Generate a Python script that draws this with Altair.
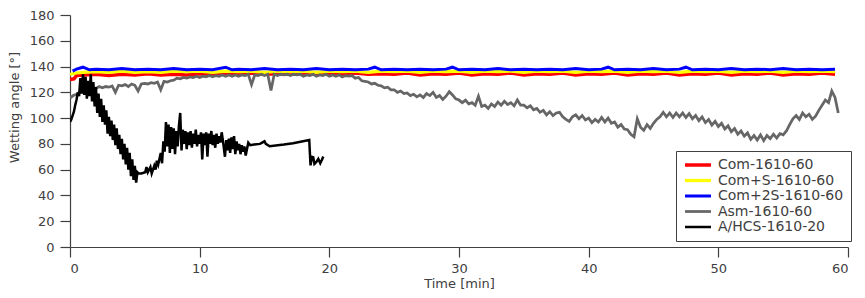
import altair as alt
import pandas as pd

series_names = ["Com-1610-60", "Com+S-1610-60", "Com+2S-1610-60", "Asm-1610-60", "A/HCS-1610-20"]
series_colors = ["#ff0000", "#ffff00", "#0000ff", "#666666", "#000000"]
series_widths = [3.5, 2.5, 1.2, 3, 1.8]

x_ticks = [0, 10, 20, 30, 40, 50, 60]
y_ticks = [0, 20, 40, 60, 80, 100, 120, 140, 160, 180]

# Com-1610-60 (red)
com_t = [0, 0.3, 0.5] + list(range(1, 60))
com_v = [130, 130.5, 133,
         133.5, 134, 133, 134, 133.5, 134.5, 133.5, 134, 133.5, 134.5,
         134, 134.5, 134, 135, 134, 134.5, 134, 135, 134, 134.5,
         134, 135, 134, 134.5, 134, 135, 133.5, 134.5, 134, 135,
         133.5, 134.5, 134, 135, 133.5, 134.5, 134, 135, 133.5, 134.5,
         134, 135, 133.5, 134.5, 134, 135, 133.5, 134.5, 134, 135,
         133.5, 134.5, 134, 135, 133.5, 134.5, 134, 135, 134]

# Com+S-1610-60 (yellow)
coms_t = [0, 0.5] + list(range(1, 60))
coms_v = [134, 135,
          135.5, 136, 135.5, 136.5, 135.5, 136, 135.5, 136.5, 136, 136.5,
          135.5, 136.5, 136, 136.5, 135.5, 136.5, 136, 136.5, 135.5, 136.5,
          136, 136.5, 135.5, 136.5, 136, 136.5, 135.5, 136.5, 136, 136.5,
          135.5, 136.5, 136, 136.5, 135.5, 136.5, 136, 136.5, 135.5, 136.5,
          136, 136.5, 135.5, 136.5, 136, 136.5, 135.5, 136.5, 136, 136.5,
          135.5, 136.5, 136, 136.5, 135.5, 136.5, 136, 136.5, 136]

# Com+2S-1610-60 (blue)
com2s_t = [0.2, 0.5, 1, 1.5, 2, 3, 4, 5, 6, 7, 8, 9, 10, 11, 12, 12.5, 13, 14, 15, 16,
           17, 18, 19, 20, 21, 22, 23, 23.5, 24, 25, 26, 27, 28, 29, 29.5, 30, 31, 32,
           33, 34, 35, 36, 37, 38, 39, 40, 41, 41.5, 42, 43, 44, 45, 46, 47, 47.5, 48,
           49, 50, 51, 52, 53, 54, 55, 56, 57, 58, 59]
com2s_v = [136.5, 138, 139.5, 137.5, 138, 137.5, 138.5, 137.5, 138, 137.5, 138.5, 137.5,
           138, 137.5, 139.5, 137.5, 138, 137.5, 138.5, 137.5, 138, 137.5, 138.5, 137.5,
           138, 137.5, 138, 139.5, 137.5, 138, 137.5, 138, 137.5, 138, 139.5, 137.5,
           138, 137.5, 138.5, 137.5, 138, 137.5, 138, 137.5, 138.5, 137.5, 138, 139.5,
           137.5, 138, 137.5, 138.5, 137.5, 138, 139.5, 137.5, 138, 137.5, 138.5, 137.5,
           138, 137.5, 138.5, 137.5, 138, 137.5, 138]

# Asm-1610-60 (grey), sampled every 0.25 min
asm_v = [115.5, 117.5, 118.5, 120, 121, 122.5, 122, 123.5, 123, 124.5, 123.5, 124.5,
         124, 125, 120, 125.5, 125, 126, 124.5, 126.5, 125.5, 121, 126.5, 127,
         126.5, 127.5, 127, 128, 122, 128.5, 128, 129, 129.5, 131, 130.5, 131.5,
         131, 132, 131.5, 132.5, 131.5, 132.5, 132, 133, 132, 133, 132.5, 133.5,
         132.5, 133.5, 132.5, 133.5, 132.5, 133.5, 133, 134, 126, 133.5, 133, 134,
         133, 134, 121.5, 134, 133, 134, 133.5, 134, 133, 134, 133.5, 134,
         132.5, 133.5, 133, 134, 132.5, 133.5, 133, 134, 132.5, 133.5, 132.5, 133.5,
         132, 133, 132.5, 133, 131, 131.5, 129, 128.5, 128, 126.5, 127, 125.5,
         125, 123.5, 124, 122, 122, 120, 121, 119, 119.5, 117.5, 118.5, 116.5,
         118, 116, 119, 117.5, 120, 116, 117.5, 114.5, 117, 120.5, 118, 115,
         114, 112, 114, 111, 112, 110, 117, 109, 110, 107.5, 111, 109,
         112.5, 110, 113, 110.5, 112, 109.5, 114, 110, 110, 108, 109.5, 106.5,
         107.5, 104.5, 106, 102.5, 105, 102, 104, 104.5, 101, 99, 97.5, 101,
         102.5, 99.5, 102, 98.5, 100, 96.5, 99, 97, 100.5, 97, 100, 96,
         97, 93, 95, 91.5, 91, 87.5, 85.5, 99.5, 93, 90.5, 95, 92,
         96, 99, 101, 104.5, 101, 104, 100.5, 104, 101, 104, 100.5, 103.5,
         99.5, 102, 98, 101, 96.5, 99, 94.5, 97.5, 93.5, 96, 91.5, 94,
         89.5, 92, 87.5, 90, 86, 88.5, 83.5, 86.5, 83, 87, 82.5, 86.5,
         84, 87.5, 84.5, 88, 87, 90, 95, 99.5, 102, 99, 104, 101,
         103, 99, 101.5, 106, 110, 114, 112, 121, 116, 104]
asm_t = [i * 0.25 for i in range(len(asm_v))]

# A/HCS-1610-20 (black)
ahcs_t = [0.0, 0.1, 0.2, 0.3, 0.4, 0.5, 0.6, 0.7, 0.8, 0.9, 1.0, 1.1, 1.2, 1.3, 1.4, 1.5,
          1.6, 1.7, 1.8, 1.9, 2.0, 2.1, 2.2, 2.3, 2.4, 2.5, 2.6, 2.7, 2.8, 2.9, 3.0, 3.1,
          3.2, 3.3, 3.4, 3.5, 3.6, 3.7, 3.8, 3.9, 4.0, 4.1, 4.2, 4.3, 4.4, 4.5, 4.6, 4.7,
          4.8, 4.9, 5.0, 5.1, 5.2, 5.3, 5.5, 5.8, 5.9, 6.0, 6.2, 6.3, 6.5, 6.6, 6.7, 6.8,
          7.0, 7.1, 7.2, 7.3, 7.4, 7.5, 7.6, 7.7, 7.8, 7.9, 8.0, 8.1, 8.2, 8.3, 8.4, 8.5,
          8.6, 8.7, 8.8, 8.9, 9.0, 9.1, 9.2, 9.3, 9.4, 9.5, 9.6, 9.7, 9.8, 9.9, 10.0, 10.1,
          10.2, 10.3, 10.4, 10.5, 10.6, 10.7, 10.8, 10.9, 11.0, 11.1, 11.2, 11.3, 11.4,
          11.5, 11.6, 11.7, 11.8, 11.95, 12.05, 12.15, 12.25, 12.35, 12.45, 12.55, 12.65,
          12.75, 12.85, 12.95, 13.05, 13.15, 13.25, 13.35, 13.45, 13.55, 13.65, 13.75,
          13.9, 14.2, 14.65, 15.0, 15.1, 15.4, 16.5, 17.2, 18.45, 18.55, 18.65, 18.76,
          18.85, 19.0, 19.15, 19.3, 19.45, 19.53]
ahcs_v = [97, 99, 102, 105, 110, 114, 120, 117, 131, 119, 134, 118, 132, 115, 129, 117,
          134, 113, 128, 109, 124, 104, 119, 101, 115, 97, 110, 95, 106, 88, 101, 86,
          98, 83, 95, 79, 92, 76, 87, 72, 84, 68, 80, 64, 77, 60, 73, 55,
          68, 52, 63, 50, 58, 57, 57, 58, 62, 58, 62, 57, 63, 60, 67, 64,
          73, 65, 82, 74, 97, 78, 95, 73, 93, 76, 92, 72, 90, 78, 94, 104,
          75, 91, 80, 90, 76, 89, 79, 90, 77, 88, 80, 91, 78, 87, 80, 89,
          68, 88, 79, 89, 70, 88, 80, 90, 79, 87, 77, 88, 80,
          86, 81, 89, 82, 70, 83, 75, 84, 73, 85, 76, 86,
          72, 82, 75, 80, 72, 79, 74, 78, 71, 76, 81,
          79, 79.5, 80, 82, 80, 78.2, 79.5, 80.5, 83, 63.3, 70, 69.7,
          64.5, 66, 68.4, 65, 68, 70.2]

frames = []
for name, ts, vs in [(series_names[0], com_t, com_v), (series_names[1], coms_t, coms_v),
                     (series_names[2], com2s_t, com2s_v), (series_names[3], asm_t, asm_v),
                     (series_names[4], ahcs_t, ahcs_v)]:
    frames.append(pd.DataFrame({"series": name, "t": ts, "v": vs, "order": range(len(ts))}))
df = pd.concat(frames, ignore_index=True)

FONT = "DejaVu Sans"
TXT = "#404040"

chart = alt.Chart(df).mark_line(clip=True).encode(
    x=alt.X("t:Q", scale=alt.Scale(domain=[0, 60], nice=False, zero=False),
            axis=alt.Axis(values=x_ticks, title="Time [min]", grid=False, tickSize=10,
                          labelPadding=5, titlePadding=2, format="d")),
    y=alt.Y("v:Q", scale=alt.Scale(domain=[0, 180], nice=False),
            axis=alt.Axis(values=y_ticks, title="Wetting angle [°]", grid=False, tickSize=10,
                          labelPadding=6, titleX=-49, titleY=92, format="d")),
    color=alt.Color("series:N", title=None,
                    scale=alt.Scale(domain=series_names, range=series_colors),
                    legend=alt.Legend(orient="none", legendX=606, legendY=136,
                                      symbolType="M-2.6,0L2.6,0", symbolSize=100,
                                      symbolOffset=8,
                                      symbolStrokeWidth=2.5, labelFontSize=14,
                                      labelFont=FONT, labelColor=TXT, labelOffset=13,
                                      padding=7, strokeColor="#404040",
                                      fillColor="#ffffff", rowPadding=1.5)),
    strokeWidth=alt.StrokeWidth("series:N", scale=alt.Scale(domain=series_names, range=series_widths),
                                legend=None),
    order="order:Q",
).properties(
    width=778, height=232,
    autosize=alt.AutoSizeParams(type="none"),
    padding={"left": 62, "top": 7, "right": 9, "bottom": 51},
).configure_view(stroke=None).configure_axis(
    labelFont=FONT, titleFont=FONT, labelFontSize=13, titleFontSize=13,
    labelColor=TXT, titleColor=TXT, domainColor="#404040", tickColor="#404040",
    titleFontWeight="normal", domainWidth=1.2, tickWidth=1.2,
)

chart.save("out.html", embed_options={"renderer": "svg", "actions": False})
